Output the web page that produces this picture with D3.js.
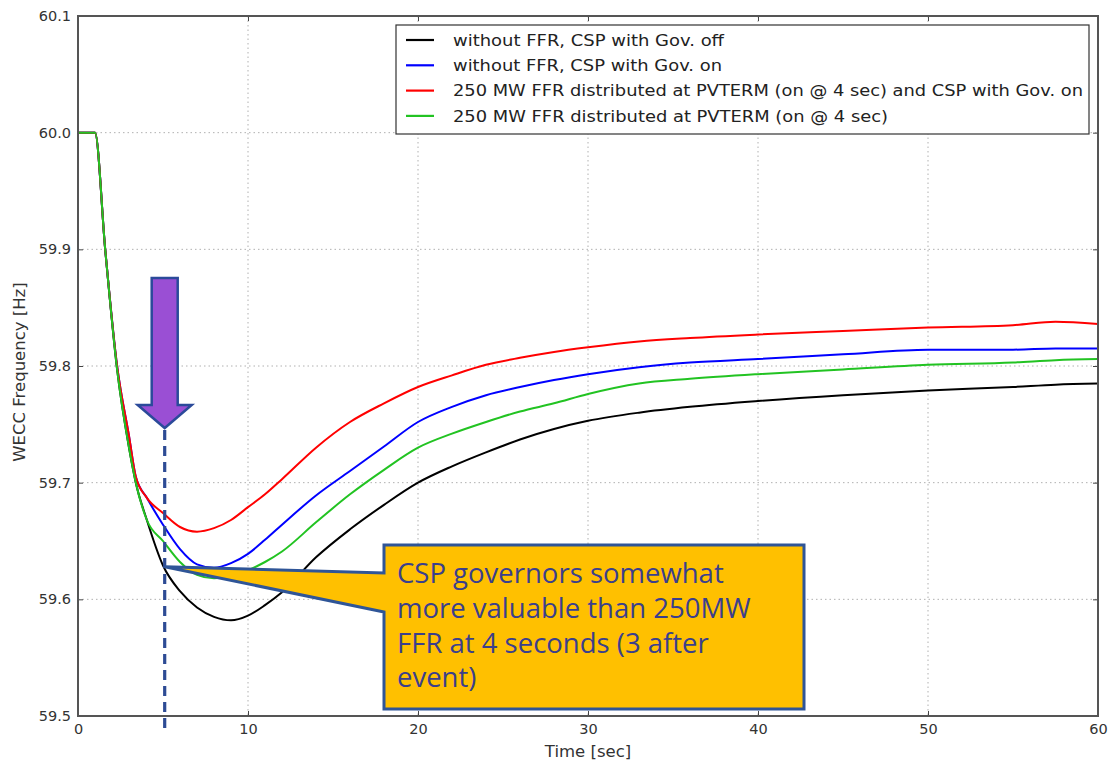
<!DOCTYPE html>
<html><head><meta charset="utf-8">
<script src="https://cdn.jsdelivr.net/npm/d3@7"></script>
<style>body{margin:0;background:#fff} svg{display:block}</style>
</head><body>
<svg id="c" width="1109" height="763"></svg>
<script>
// ---------- data ----------
const time     = [0, 1, 1.6, 2.3, 3.0, 3.4, 4.05, 5, 6, 7, 8, 9, 10, 11, 12, 14, 16, 18, 20, 22, 24, 26, 28, 30, 33, 36, 40, 45, 50, 55, 57.5, 60];
const govOff   = [60, 60, 59.9, 59.797, 59.73, 59.70, 59.668, 59.629, 59.607, 59.593, 59.585, 59.582, 59.586, 59.595, 59.606, 59.636, 59.660, 59.681, 59.700, 59.714, 59.726, 59.737, 59.746, 59.753, 59.760, 59.765, 59.770, 59.775, 59.779, 59.782, 59.784, 59.785];
const govOn    = [60, 60, 59.9, 59.8, 59.74, 59.705, 59.687, 59.664, 59.643, 59.630, 59.627, 59.631, 59.639, 59.651, 59.664, 59.689, 59.710, 59.731, 59.752, 59.765, 59.775, 59.782, 59.788, 59.793, 59.799, 59.803, 59.806, 59.810, 59.814, 59.814, 59.815, 59.815];
const ffrGovOn = [60, 60, 59.9, 59.8, 59.74, 59.705, 59.687, 59.674, 59.662, 59.658, 59.661, 59.668, 59.679, 59.690, 59.703, 59.730, 59.752, 59.768, 59.782, 59.792, 59.801, 59.807, 59.812, 59.816, 59.821, 59.824, 59.827, 59.830, 59.833, 59.835, 59.838, 59.836];
const ffrOnly  = [60, 60, 59.9, 59.797, 59.73, 59.70, 59.668, 59.650, 59.632, 59.621, 59.618, 59.620, 59.625, 59.632, 59.641, 59.666, 59.690, 59.711, 59.730, 59.742, 59.752, 59.761, 59.768, 59.776, 59.785, 59.789, 59.793, 59.797, 59.801, 59.803, 59.805, 59.806];

const seriesLabels = [
  "without FFR, CSP with Gov. off",
  "without FFR, CSP with Gov. on",
  "250 MW FFR distributed at PVTERM (on @ 4 sec) and CSP with Gov. on",
  "250 MW FFR distributed at PVTERM (on @ 4 sec)"
];
const seriesColors = ["#000000", "#0000ff", "#ff0000", "#22c322"];
const seriesValues = [govOff, govOn, ffrGovOn, ffrOnly];

const xTicks = [0, 10, 20, 30, 40, 50, 60];
const yTicks = [59.5, 59.6, 59.7, 59.8, 59.9, 60.0, 60.1];
const xTitle = "Time [sec]";
const yTitle = "WECC Frequency [Hz]";

const markerTime = 5.1;        // arrow / dashed line
const calloutTip = [5.1, 59.628];
const calloutLines = ["CSP governors somewhat", "more valuable than 250MW", "FFR at 4 seconds (3 after", "event)"];

// ---------- layout ----------
const svg = d3.select("#c");
const M = {left: 78, right: 1098, top: 16, bottom: 716};
const x = d3.scaleLinear().domain([0, 60]).range([M.left, M.right]);
const y = d3.scaleLinear().domain([59.5, 60.1]).range([M.bottom, M.top]);
const font = "'DejaVu Sans', sans-serif";

// grid
const grid = svg.append("g");
grid.selectAll(".gx").data(xTicks.slice(1, -1)).join("line")
  .attr("x1", d => x(d)).attr("x2", d => x(d)).attr("y1", M.top).attr("y2", M.bottom)
  .attr("stroke", "#b0b0b0").attr("stroke-width", 1).attr("stroke-dasharray", "1.5,3");
grid.selectAll(".gy").data(yTicks.slice(1, -1)).join("line")
  .attr("y1", d => y(d)).attr("y2", d => y(d)).attr("x1", M.left).attr("x2", M.right)
  .attr("stroke", "#b0b0b0").attr("stroke-width", 1).attr("stroke-dasharray", "1.5,3");

// axes (ticks inward like matplotlib)
const axB = svg.append("g").attr("transform", `translate(0,${M.bottom})`)
  .call(d3.axisBottom(x).tickValues(xTicks).tickFormat(d3.format("d")).tickSizeInner(-5).tickSizeOuter(0).tickPadding(8));
const axL = svg.append("g").attr("transform", `translate(${M.left},0)`)
  .call(d3.axisLeft(y).tickValues(yTicks).tickFormat(d3.format(".1f")).tickSizeInner(-5).tickSizeOuter(0).tickPadding(7));
const axT = svg.append("g").attr("transform", `translate(0,${M.top})`)
  .call(d3.axisTop(x).tickValues(xTicks).tickFormat("").tickSizeInner(-5).tickSizeOuter(0));
const axR = svg.append("g").attr("transform", `translate(${M.right},0)`)
  .call(d3.axisRight(y).tickValues(yTicks).tickFormat("").tickSizeInner(-5).tickSizeOuter(0));
[axB, axL, axT, axR].forEach(a => {
  a.select(".domain").remove();
  a.selectAll(".tick line").attr("stroke", "#444");
  a.selectAll("text").attr("font-family", font).attr("font-size", 14.5).attr("fill", "#333");
});
axB.selectAll("text").attr("dy", "0.71em");

// lines
const line = d3.line().x((d, i) => x(time[i])).y(d => y(d)).curve(d3.curveMonotoneX);
const lines = svg.append("g");
seriesValues.forEach((vals, k) => {
  lines.append("path").attr("d", line(vals)).attr("fill", "none")
    .attr("stroke", seriesColors[k]).attr("stroke-width", 2).attr("stroke-linejoin", "round");
});

// frame
svg.append("rect").attr("x", M.left).attr("y", M.top).attr("width", M.right - M.left).attr("height", M.bottom - M.top)
  .attr("fill", "none").attr("stroke", "#555").attr("stroke-width", 2);

// axis titles
svg.append("text").attr("x", (M.left + M.right) / 2).attr("y", 757).attr("text-anchor", "middle")
  .attr("font-family", font).attr("font-size", 16.5).attr("fill", "#333").text(xTitle);
svg.append("text").attr("transform", `translate(25,${(M.top + M.bottom) / 2 + 6}) rotate(-90)`).attr("text-anchor", "middle")
  .attr("font-family", font).attr("font-size", 16.5).attr("fill", "#333").text(yTitle);

// legend
const legendWidths = [271, 269, 630, 435];
const lg = svg.append("g");
lg.append("rect").attr("x", 396).attr("y", 25).attr("width", 693).attr("height", 109)
  .attr("fill", "#fff").attr("stroke", "#333").attr("stroke-width", 1.2);
seriesLabels.forEach((lab, k) => {
  const yy = 40 + k * 25.3;
  lg.append("line").attr("x1", 406).attr("x2", 434).attr("y1", yy).attr("y2", yy)
    .attr("stroke", seriesColors[k]).attr("stroke-width", 2.2);
  lg.append("text").attr("x", 453).attr("y", yy).attr("dy", "0.35em")
    .attr("font-family", font).attr("font-size", 16.5).attr("fill", "#222")
    .attr("textLength", legendWidths[k]).attr("lengthAdjust", "spacingAndGlyphs").text(lab);
});

// dashed marker line and arrow
const mx = x(markerTime);
svg.append("line").attr("x1", mx).attr("x2", mx).attr("y1", 430).attr("y2", 732)
  .attr("stroke", "#2d4b94").attr("stroke-width", 3.2).attr("stroke-dasharray", "10,6");
svg.append("path")
  .attr("d", `M${mx-13},278 L${mx+13},278 L${mx+13},405 L${mx+27},405 L${mx},428 L${mx-27},405 L${mx-13},405 Z`)
  .attr("fill", "#9a4fd4").attr("stroke", "#2b4a9a").attr("stroke-width", 2.5).attr("stroke-linejoin", "miter");

// callout
const tx = x(calloutTip[0]), ty = y(calloutTip[1]);
const bx0 = 384, bx1 = 804, by0 = 545, by1 = 709;
svg.append("path")
  .attr("d", `M${bx0},${by0} L${bx1},${by0} L${bx1},${by1} L${bx0},${by1} L${bx0},612 L${tx},${ty} L${bx0},573 Z`)
  .attr("fill", "#ffc000").attr("stroke", "#2f5597").attr("stroke-width", 3).attr("stroke-linejoin", "miter");
calloutLines.forEach((t, i) => {
  svg.append("text").attr("x", 397).attr("y", 583 + i * 34.8)
    .attr("font-family", "'Open Sans', sans-serif").attr("font-size", 27.5).attr("fill", "#3b3f8c").text(t);
});
</script>
</body></html>
